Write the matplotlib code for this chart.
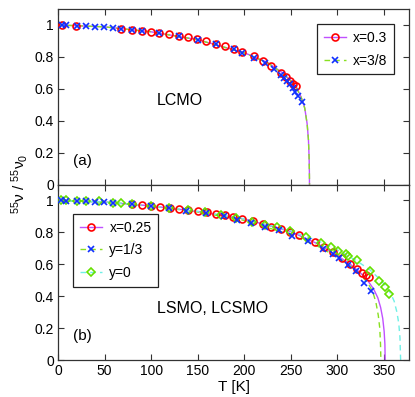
import matplotlib
matplotlib.use("Agg")
import matplotlib.pyplot as plt
from matplotlib.lines import Line2D

plt.rcParams['font.family'] = ['Liberation Sans', 'DejaVu Sans']
plt.rcParams['mathtext.fontset'] = 'custom'
plt.rcParams['mathtext.rm'] = 'Liberation Sans'
plt.rcParams['mathtext.it'] = 'Liberation Sans'
plt.rcParams['mathtext.default'] = 'regular'

# ---------------- data: panel (a) LCMO ----------------
red_a_T = [4, 19, 68, 80, 90, 100, 109, 119, 130, 140, 149, 159, 169.5, 179, 189, 198,
           210, 220, 229, 240, 245, 249, 252.5, 255.5]
red_a_v = [1.0, 0.994, 0.975, 0.968, 0.962, 0.955, 0.948, 0.941, 0.932, 0.922, 0.91, 0.898,
           0.881, 0.867, 0.85, 0.83, 0.803, 0.776, 0.745, 0.70, 0.672, 0.65, 0.633, 0.617]
blue_a_T = [4, 9, 20, 30, 39.5, 49, 59, 68, 80, 90, 109, 130, 150, 169.5, 189, 198, 210,
            222, 232, 240, 242.5, 246, 249, 252, 255, 258, 262.5]
blue_a_v = [1.0, 0.998, 0.995, 0.992, 0.99, 0.987, 0.982, 0.976, 0.968, 0.962, 0.948, 0.932,
            0.907, 0.879, 0.849, 0.824, 0.796, 0.76, 0.727, 0.688, 0.67, 0.65, 0.627, 0.605,
            0.58, 0.555, 0.515]
fit03_T = [0, 50, 100, 150, 200, 225, 240, 250, 256, 261, 263, 265, 267.6, 269, 269.7, 270.0, 270.1]
fit03_v = [1.0, 0.988, 0.957, 0.908, 0.826, 0.765, 0.705, 0.652, 0.61, 0.55, 0.517, 0.48,
           0.38, 0.28, 0.17, 0.08, 0.0]
fit38_T = [0, 50, 100, 150, 200, 225, 240, 250, 256, 261, 263, 265, 267.6, 269, 269.7, 270.0, 270.2]
fit38_v = [1.0, 0.988, 0.957, 0.907, 0.825, 0.763, 0.702, 0.65, 0.607, 0.548, 0.515, 0.478,
           0.38, 0.28, 0.17, 0.08, 0.0]

# ---------------- data: panel (b) LSMO, LCSMO ----------------
red_b_T = [80, 90, 100, 110, 120, 130, 140, 150, 160, 170, 179, 188, 198, 209, 220, 229, 240,
           249, 259, 276, 285.5, 295, 305, 314, 321, 326, 330.5, 334]
red_b_v = [0.979, 0.973, 0.966, 0.96, 0.953, 0.946, 0.939, 0.932, 0.925, 0.916, 0.907, 0.896,
           0.884, 0.871, 0.852, 0.836, 0.818, 0.804, 0.781, 0.74, 0.707, 0.676, 0.641, 0.604,
           0.568, 0.545, 0.532, 0.518]
blue_b_T = [3, 9, 20, 30, 39.5, 49, 59, 80, 100, 119, 138, 158.7, 178, 192, 207, 222, 237.5,
            251, 268.7, 285, 295, 302, 311.6, 320.6, 328.5, 335.7]
blue_b_v = [1.0, 0.999, 0.998, 0.996, 0.993, 0.99, 0.985, 0.975, 0.964, 0.952, 0.937, 0.92,
            0.9, 0.876, 0.858, 0.832, 0.812, 0.78, 0.743, 0.697, 0.665, 0.638, 0.598, 0.555,
            0.485, 0.435]
green_b_T = [3, 9, 20, 30, 44, 59, 68, 80, 100, 119, 140, 158, 175.5, 191, 208, 222, 235.5,
             249, 266, 282, 292.7, 301, 309, 312, 321, 335, 345, 351, 355.4]
green_b_v = [1.0, 1.0, 0.998, 0.997, 0.995, 0.987, 0.982, 0.977, 0.965, 0.953, 0.938, 0.925,
             0.906, 0.889, 0.866, 0.845, 0.832, 0.808, 0.774, 0.732, 0.707, 0.682, 0.662,
             0.652, 0.625, 0.56, 0.498, 0.456, 0.414]
fit25_T = [0, 50, 100, 150, 200, 250, 280, 300, 315, 325, 333, 339, 343.5, 346.5, 348.8,
           350.3, 351.1, 351.4]
fit25_v = [1.0, 0.99, 0.966, 0.93, 0.884, 0.805, 0.725, 0.655, 0.595, 0.545, 0.495, 0.445,
           0.39, 0.33, 0.26, 0.18, 0.1, 0.0]
fit13_T = [0, 50, 100, 150, 200, 250, 280, 300, 315, 325, 333, 338, 341.5, 344, 345.6, 346.4, 346.8]
fit13_v = [1.0, 0.99, 0.965, 0.928, 0.875, 0.785, 0.71, 0.645, 0.585, 0.535, 0.48, 0.43,
           0.36, 0.28, 0.2, 0.1, 0.0]
fit0_T = [0, 50, 100, 150, 200, 250, 280, 300, 320, 335, 345, 352, 357, 361, 364, 366, 367.3, 368]
fit0_v = [1.0, 0.99, 0.966, 0.932, 0.885, 0.81, 0.745, 0.69, 0.625, 0.565, 0.51, 0.465,
          0.42, 0.37, 0.3, 0.23, 0.14, 0.0]

xticks = [0, 50, 100, 150, 200, 250, 300, 350]
yticks = [0, 0.2, 0.4, 0.6, 0.8, 1.0]
yticklabels = ['0', '0.2', '0.4', '0.6', '0.8', '1']

C_RED = '#ff0000'
C_BLUE = '#1030ff'
C_GREEN = '#66e000'
C_MAG = '#c050ff'
C_GDASH = '#88e020'
C_CYAN = '#70f0e6'

W, H = 415, 397
fig = plt.figure(figsize=(W / 100, H / 100), dpi=100)
left = 58 / W
width = (409 - 58) / W
ax_a = fig.add_axes([left, 1 - 184.5 / H, width, (184.5 - 9) / H])
ax_b = fig.add_axes([left, 1 - 360 / H, width, (360 - 184.5) / H])

ms = 5.0
mew = 1.2
mk_kw = dict(linestyle='none', markersize=ms, markeredgewidth=mew, markerfacecolor='none')

# panel (a)
ax_a.plot(fit03_T, fit03_v, color=C_MAG, lw=1.0, zorder=2)
ax_a.plot(fit38_T, fit38_v, color=C_GDASH, lw=1.0, ls=(0, (4, 3)), zorder=2)
ax_a.plot(red_a_T, red_a_v, marker='o', markeredgecolor=C_RED, zorder=3, **mk_kw)
ax_a.plot(blue_a_T, blue_a_v, marker='x', markeredgecolor=C_BLUE, zorder=4, **mk_kw)

h_a = [Line2D([], [], color=C_MAG, lw=1.0, marker='o', markeredgecolor=C_RED,
              markerfacecolor='none', markersize=ms, markeredgewidth=mew),
       Line2D([], [], color=C_GDASH, lw=1.0, ls=(0, (4, 3)), marker='x',
              markeredgecolor=C_BLUE, markersize=ms, markeredgewidth=mew)]
leg_a = ax_a.legend(h_a, ['x=0.3', 'x=3/8'], loc='upper right',
                    bbox_to_anchor=(0.958, 0.913), borderaxespad=0, fancybox=False,
                    edgecolor='#222222', framealpha=1, fontsize=10, handlelength=1.6,
                    labelspacing=0.6, handletextpad=0.5, borderpad=0.5)
leg_a.get_frame().set_linewidth(0.9)
ax_a.text(0.348, 0.481, 'LCMO', transform=ax_a.transAxes, ha='center', va='center', fontsize=11.5)
ax_a.text(0.042, 0.134, '(a)', transform=ax_a.transAxes, ha='left', va='center', fontsize=11)

# panel (b)
ax_b.plot(fit25_T, fit25_v, color=C_MAG, lw=1.0, zorder=2)
ax_b.plot(fit13_T, fit13_v, color=C_GDASH, lw=1.0, ls=(0, (4, 3)), zorder=2)
ax_b.plot(fit0_T, fit0_v, color=C_CYAN, lw=1.0, ls=(0, (4, 3)), zorder=2)
ax_b.plot(red_b_T, red_b_v, marker='o', markeredgecolor=C_RED, zorder=3, **mk_kw)
ax_b.plot(blue_b_T, blue_b_v, marker='x', markeredgecolor=C_BLUE, zorder=4, **mk_kw)
ax_b.plot(green_b_T, green_b_v, marker='D', markeredgecolor=C_GREEN, zorder=3,
          linestyle='none', markersize=4.4, markeredgewidth=mew, markerfacecolor='none')

h_b = [Line2D([], [], color=C_MAG, lw=1.0, marker='o', markeredgecolor=C_RED,
              markerfacecolor='none', markersize=ms, markeredgewidth=mew),
       Line2D([], [], color=C_GDASH, lw=1.0, ls=(0, (4, 3)), marker='x',
              markeredgecolor=C_BLUE, markersize=ms, markeredgewidth=mew),
       Line2D([], [], color=C_CYAN, lw=1.0, ls=(0, (4, 3)), marker='D',
              markeredgecolor=C_GREEN, markerfacecolor='none', markersize=4.4,
              markeredgewidth=mew)]
leg_b = ax_b.legend(h_b, ['x=0.25', 'y=1/3', 'y=0'], loc='upper left',
                    bbox_to_anchor=(0.0436, 0.832), borderaxespad=0, fancybox=False,
                    edgecolor='#222222', framealpha=1, fontsize=10, handlelength=1.6,
                    labelspacing=0.6, handletextpad=0.5, borderpad=0.5)
leg_b.get_frame().set_linewidth(0.9)
ax_b.text(0.282, 0.296, 'LSMO, LCSMO', transform=ax_b.transAxes, ha='left', va='center', fontsize=11.5)
ax_b.text(0.042, 0.138, '(b)', transform=ax_b.transAxes, ha='left', va='center', fontsize=11)

for ax in (ax_a, ax_b):
    ax.set_xlim(0, 377)
    ax.set_ylim(0, 1.1)
    ax.set_xticks(xticks)
    ax.set_yticks(yticks)
    ax.set_yticklabels(yticklabels)
    ax.tick_params(direction='in', length=4, width=0.8, top=True, right=True,
                   labelsize=10, pad=3, color='#333333')
    for s in ax.spines.values():
        s.set_color('#333333')
        s.set_linewidth(0.9)

ax_a.set_xticklabels([])
ax_b.set_xticklabels([str(t) for t in xticks])
ax_b.set_xlabel('T [K]', fontsize=11, labelpad=1)

fig.text(20 / W, 1 - 184 / H, r'$^{55}\nu$ / $^{55}\nu_0$', rotation=90,
         ha='center', va='center', fontsize=11)

fig.savefig('out.png', dpi=100)
